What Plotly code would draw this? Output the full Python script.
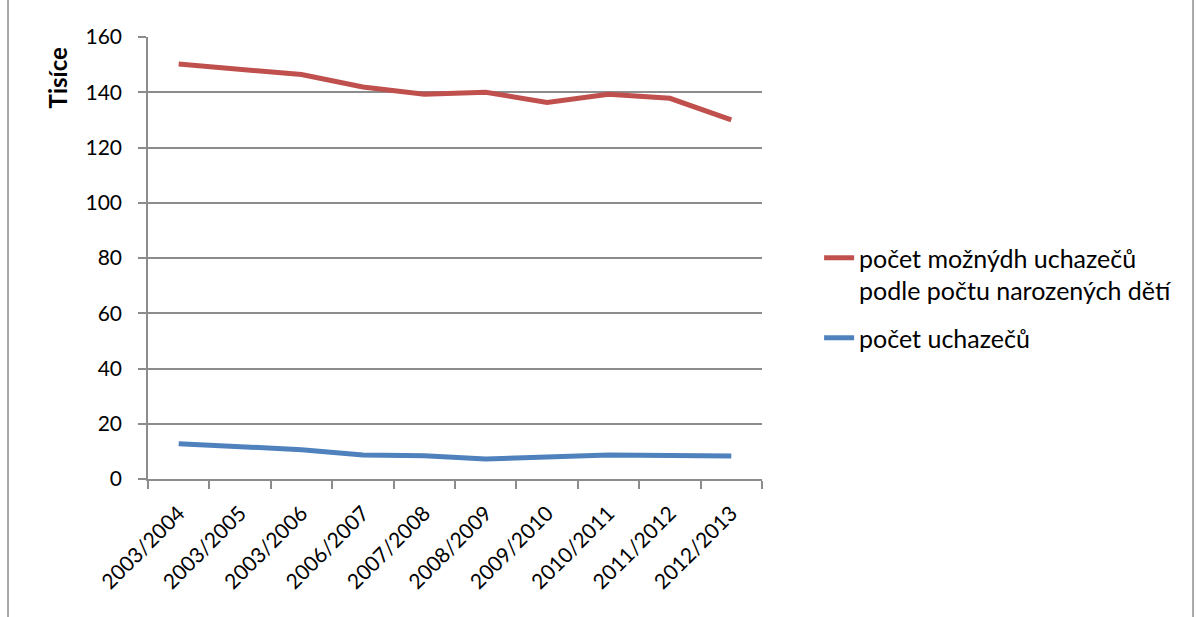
import plotly.graph_objects as go

# School years on the category axis
years = ["2003/2004", "2003/2005", "2003/2006", "2006/2007", "2007/2008",
         "2008/2009", "2009/2010", "2010/2011", "2011/2012", "2012/2013"]

# Potential applicants by number of births (thousands)
potential = [150.2, 148.5, 146.4, 141.9, 139.3, 140.0, 136.3, 139.3, 137.8, 130.0]

# Actual applicants (thousands)
applicants = [12.8, 11.7, 10.6, 8.7, 8.4, 7.2, 7.9, 8.7, 8.5, 8.3]

y_ticks = [0, 20, 40, 60, 80, 100, 120, 140, 160]

FONT = "Lato"
GRID = "#8c8c8c"

fig = go.Figure()
fig.add_trace(go.Scatter(
    x=years, y=potential, mode="lines",
    name="počet možnýdh uchazečů<br>podle počtu narozených dětí",
    line=dict(color="#C0504D", width=5), legendgroup="a",
))
fig.add_trace(go.Scatter(
    x=years, y=applicants, mode="lines",
    name="počet uchazečů",
    line=dict(color="#4F81BD", width=5), legendgroup="b",
))

fig.update_layout(
    width=1197, height=617,
    margin=dict(l=148, r=435, t=37, b=138),
    paper_bgcolor="white", plot_bgcolor="white",
    font=dict(family=FONT, size=21, color="black"),
    showlegend=True,
    legend=dict(
        x=1.093, xanchor="left", y=0.552, yanchor="top",
        font=dict(family=FONT, size=25, color="black"),
        valign="top", tracegroupgap=12,
        bgcolor="rgba(0,0,0,0)",
    ),
    xaxis=dict(
        type="category", tickson="boundaries",
        showline=True, linecolor=GRID, linewidth=1.5,
        ticks="outside", ticklen=8, tickcolor=GRID, tickwidth=1.5,
        showgrid=False, tickangle=-45,
        tickfont=dict(family=FONT, size=21),
        ticklabelstandoff=12,
        range=[-0.5, len(years) - 0.5],
    ),
    yaxis=dict(
        range=[0, 160], tickvals=y_ticks,
        showline=True, linecolor=GRID, linewidth=1.5,
        ticks="outside", ticklen=8, tickcolor=GRID, tickwidth=1.5,
        showgrid=True, gridcolor=GRID, gridwidth=1.5,
        zeroline=False,
        tickfont=dict(family=FONT, size=21),
        ticklabelstandoff=12,
    ),
    annotations=[dict(
        text="<b>Tisíce</b>", textangle=-90,
        xref="paper", yref="paper",
        x=-0.147, y=0.908, xanchor="center", yanchor="middle",
        showarrow=False, font=dict(family=FONT, size=24),
    )],
    shapes=[
        dict(type="line", xref="paper", yref="paper",
             x0=-0.228, x1=-0.228, y0=-0.4, y1=1.1,
             line=dict(color=GRID, width=1.5)),
        dict(type="line", xref="paper", yref="paper",
             x0=1.702, x1=1.702, y0=-0.4, y1=1.1,
             line=dict(color=GRID, width=1.5)),
    ],
)

fig.write_html("out.html")
